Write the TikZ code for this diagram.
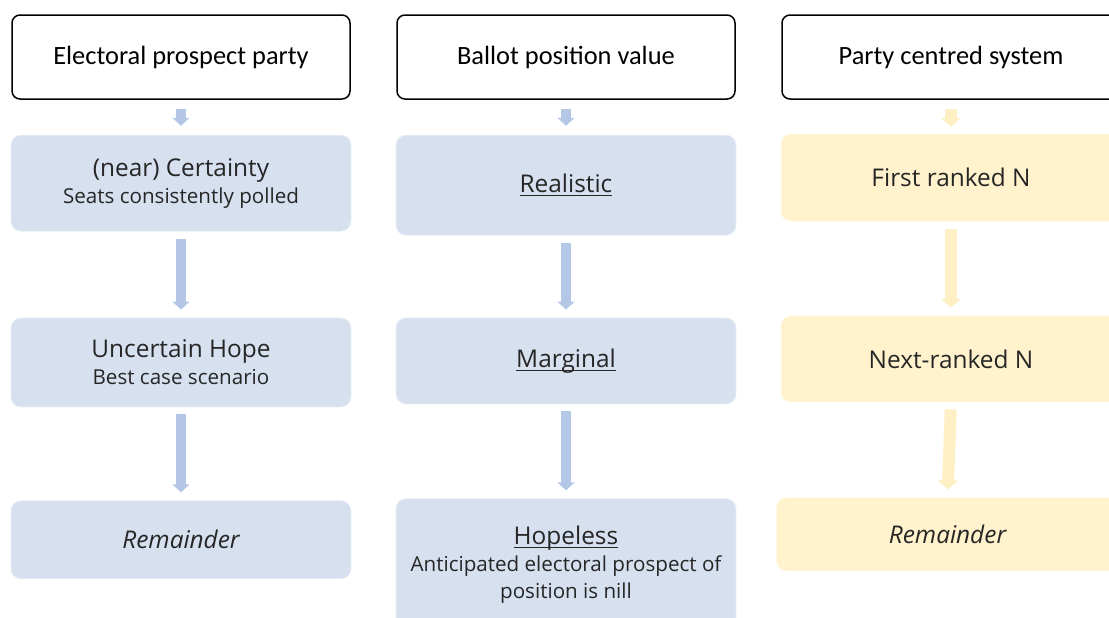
\documentclass[tikz,border=0pt]{standalone}
\usepackage{fontspec}
\setmainfont{Carlito}
\newfontfamily\boxfont{Open Sans}
\usepackage{xcolor}
\definecolor{paleblue}{RGB}{214,224,239}
\definecolor{midblue}{RGB}{180,199,231}
\definecolor{paleamber}{RGB}{255,242,204}
\definecolor{amberarrow}{RGB}{255,239,196}
\definecolor{ink}{RGB}{38,38,38}
\usepackage{tikz}
\usetikzlibrary{arrows.meta,positioning}

\newcommand{\mainline}[1]{{\fontsize{12.2}{13.5}\selectfont #1}}
% underline set close to the baseline
\newcommand{\uword}[1]{\setbox0\hbox{#1}\rlap{\rule[-1.8pt]{\wd0}{0.5pt}}\box0}

\begin{document}
\begin{tikzpicture}[
  x=0.5pt, y=-0.5pt,
  hd/.style={rectangle,draw=black,line width=0.75pt,rounded corners=4pt,
             fill=white,minimum width=169pt,minimum height=42pt,
             font=\fontsize{13.2}{15}\selectfont},
  bx/.style={rectangle,rounded corners=5pt,fill=paleblue,draw=paleblue!55!white,
             minimum width=170pt,align=center,text=ink,
             font=\boxfont\fontsize{10.3}{13.5}\selectfont},
  ybx/.style={bx,fill=paleamber,draw=paleamber!55!white},
  ar/.style={midblue,line width=5pt,-{Triangle[length=4pt,width=8.5pt]},
             shorten <=3.5pt,shorten >=4pt},
  yar/.style={ar,amberarrow,line width=6pt,-{Triangle[length=4.5pt,width=10pt]}},
]
  \useasboundingbox (0,0) rectangle (1109,617);
  \clip (0,0) rectangle (1109,617);

  % column headers
  \node[hd](h1) at (181,57){Electoral prospect party};
  \node[hd](h2) at (566,57){Ballot position value};
  \node[hd](h3) at (951,57){Party centred system};

  % electoral prospect
  \node[bx,below=17.5pt of h1,minimum height=48pt](c1a)
    {\mainline{(near) Certainty}\\Seats consistently polled};
  \node[bx,below=43pt of c1a,minimum height=44.5pt](c1b)
    {\mainline{Uncertain Hope}\\Best case scenario};
  \node[bx,below=46.5pt of c1b,minimum height=39pt](c1c)
    {\mainline{\itshape Remainder}};

  % ballot position
  \node[bx,below=17.5pt of h2,minimum height=50pt](c2a)
    {\mainline{\uword{Realistic}}};
  \node[bx,below=41pt of c2a,minimum height=43pt](c2b)
    {\mainline{\uword{Marginal}}};
  \node[bx,below=47pt of c2b,minimum height=66pt](c2c)
    {\mainline{\uword{Hopeless}}\\Anticipated electoral prospect of\\position is nill};

  % party centred
  \node[ybx,below=17pt of h3,minimum height=43.5pt](c3a)
    {\mainline{First ranked N}};
  \node[ybx,below=47pt of c3a,minimum height=43pt](c3b)
    {\mainline{Next-ranked N}};
  \node[ybx,below=47.5pt of c3b,xshift=-1.75pt,minimum width=171pt,
        minimum height=36.5pt](c3c)
    {\mainline{\itshape Remainder}};

  \draw[ar,shorten <=4.5pt,shorten >=4.5pt](h1)--(c1a);
  \draw[ar](c1a)--(c1b);
  \draw[ar](c1b)--(c1c);
  \draw[ar,shorten <=4.5pt,shorten >=4.5pt](h2)--(c2a);
  \draw[ar](c2a)--(c2b);
  \draw[ar](c2b)--(c2c);
  \draw[yar,shorten <=4.5pt,shorten >=3.5pt](h3)--(c3a);
  \draw[yar](c3a.south)--(c3b.north);
  \draw[yar](c3b.south)--(c3c.north);
\end{tikzpicture}
\end{document}
